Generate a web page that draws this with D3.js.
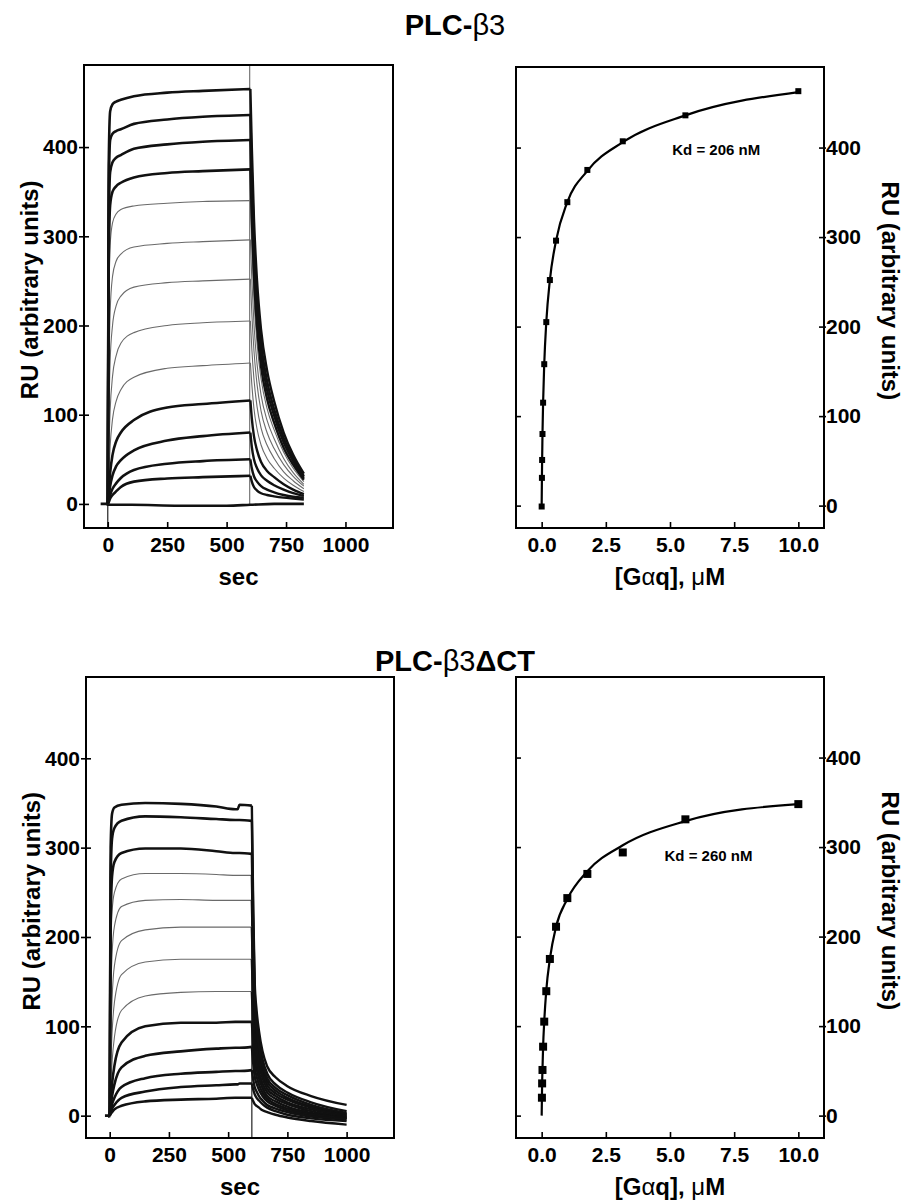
<!DOCTYPE html>
<html><head><meta charset="utf-8">
<script src="https://cdn.jsdelivr.net/npm/d3@7"></script>
<style>
body{margin:0;background:#fff}
svg{display:block}
</style>
</head><body>
<svg id="c" width="911" height="1202"></svg>
<script>
// ---------------- DATA ----------------
// PLC-β3 sensorgrams (sec, RU)
const topAssocTime = [0, 4, 10, 20, 35, 55, 110, 250, 400, 600];
const topAssocRU = [
  [0, 380, 440, 448, 451, 453, 457, 461, 463, 465],
  [0, 350, 408, 415, 418, 420, 426, 431, 434, 436],
  [0, 310, 372, 383, 388, 391, 398, 403, 406, 408],
  [0, 270, 335, 350, 356, 360, 366, 371, 373, 375],
  [0, 200, 290, 315, 325, 330, 334, 337, 339, 340],
  [0, 130, 215, 255, 272, 280, 288, 292, 294, 296],
  [0, 90, 160, 200, 222, 233, 243, 248, 250, 252],
  [0, 55, 105, 143, 166, 180, 192, 200, 203, 205],
  [0, 30, 65, 95, 115, 128, 142, 152, 155, 158],
  [0, 15, 35, 55, 70, 80, 94, 108, 112, 116],
  [0, 8, 20, 32, 42, 49, 60, 71, 76, 80],
  [0, 4, 10, 17, 23, 29, 38, 45, 48, 50],
  [0, 2, 6, 10, 14, 19, 25, 28.5, 30, 31.5]
];
const topDissTime = [600, 606, 615, 628, 645, 670, 700, 740, 780, 825];
const topDissRU = [
  [465, 400, 320, 250, 195, 150, 115, 80, 55, 34],
  [436, 372, 298, 232, 180, 138, 106, 74, 51, 31],
  [408, 348, 278, 216, 168, 128, 99, 69, 48, 29],
  [375, 320, 256, 198, 154, 118, 91, 63, 44, 27],
  [340, 290, 232, 180, 140, 107, 83, 58, 40, 25],
  [296, 252, 202, 157, 122, 94, 73, 51, 35, 22],
  [252, 214, 172, 134, 104, 80, 62, 44, 31, 20],
  [205, 174, 140, 109, 85, 66, 51, 36, 26, 17],
  [158, 134, 107, 84, 66, 51, 40, 29, 21, 14],
  [116, 96, 76, 60, 47, 37, 30, 22, 16, 11],
  [80, 64, 50, 40, 32, 26, 21, 16, 12, 9],
  [50, 40, 31, 25, 20, 16, 13, 10, 8, 7],
  [31.5, 25, 19, 15, 12, 10, 8.5, 7, 6, 5]
];
const topTraceKind = ["data","data","data","data","fit","fit","fit","fit","fit","data","data","data","data"];
const topBaseTime = [-30, -5, 0, 100, 300, 500, 600, 700, 825];
const topBaseRU = [0, 0, -1, -1, -2, -2, -1, 0, 0];

// PLC-β3ΔCT sensorgrams (sec, RU)
const botAssocTime = [0, 4, 10, 20, 50, 150, 300, 450, 530, 540, 548, 600];
const botAssocRU = [
  [0, 300, 338, 345, 348, 350, 349, 346, 343, 343, 348, 347],
  [0, 265, 310, 322, 330, 335, 334, 332, 331, 331, 331, 330],
  [0, 215, 268, 284, 294, 299, 299, 296, 294, 294, 294, 293],
  [0, 170, 228, 250, 265, 271, 271, 270, 269, 269, 269, 269],
  [0, 120, 180, 212, 234, 241, 242, 241, 241, 241, 241, 241],
  [0, 80, 130, 168, 196, 208, 211, 211, 211, 211, 211, 211],
  [0, 52, 92, 127, 158, 172, 175, 175, 175, 175, 175, 175],
  [0, 30, 60, 88, 118, 134, 138, 139, 139, 139, 139, 139],
  [0, 17, 36, 56, 82, 100, 104, 104, 105, 105, 105, 105],
  [0, 10, 22, 35, 54, 67, 72, 75, 76, 76, 76, 77],
  [0, 6, 13, 20, 32, 42, 47, 49, 50, 50, 50, 51],
  [0, 3, 8, 12, 20, 27, 32, 34, 35, 35, 36, 36],
  [0, 2, 4, 7, 11, 16, 18, 19, 20, 20, 20, 20]
];
const botDissTime = [600, 606, 612, 620, 630, 645, 665, 700, 750, 850, 1000];
const botDissRU = [
  [347, 230, 150, 118, 95, 72, 55, 43, 33, 22, 12],
  [330, 215, 140, 108, 85, 63, 47, 35, 26, 15, 5],
  [293, 195, 128, 98, 77, 57, 42, 31, 23, 12, 3],
  [269, 180, 118, 90, 70, 52, 38, 28, 20, 10, 2],
  [241, 162, 107, 82, 64, 47, 34, 25, 18, 9, 1],
  [211, 143, 96, 74, 57, 42, 30, 22, 15, 7, 0],
  [175, 120, 82, 63, 49, 36, 26, 19, 13, 5, -1],
  [139, 97, 68, 53, 42, 31, 22, 16, 10, 3, -2],
  [105, 76, 55, 44, 35, 26, 19, 13, 8, 2, -2],
  [77, 58, 44, 36, 29, 22, 16, 11, 6, 1, -3],
  [51, 40, 32, 27, 22, 17, 12, 8, 4, -1, -4],
  [36, 29, 24, 20, 17, 13, 9, 5, 1, -3, -6],
  [20, 16, 13, 11, 9, 6, 4, 1, -2, -6, -10]
];
const botTraceKind = ["data","data","data","fit","fit","fit","fit","fit","data","data","data","data","data"];
const botBaseTime = [-20, -5, 0];
const botBaseRU = [0, 0, -2];

// injection artefacts (sec, RU from, RU to)
const topSpikes = [[0, -30, 0, "dark"], [597, 0, 500, "grey"]];
const botSpikes = [[600, -30, 347, "dark"]];

// Binding isotherms ([Gαq] µM, RU)
const topConc = [0, 0.01, 0.018, 0.032, 0.056, 0.1, 0.18, 0.32, 0.56, 1.0, 1.78, 3.16, 5.6, 10];
const topRU   = [-1, 31, 51, 80, 115, 158, 205, 252, 296, 339, 375, 407, 436, 463];
const topFitConc = [0, 0.01, 0.018, 0.032, 0.056, 0.1, 0.18, 0.32, 0.56, 1.0, 1.78, 3.16, 5.6, 10];
const topFitRU   = [0, 31, 51, 80, 115, 158, 205, 252, 296, 339, 374, 406, 436, 462];
const botConc = [0.01, 0.018, 0.032, 0.056, 0.1, 0.18, 0.32, 0.56, 1.0, 1.78, 3.16, 5.6, 10];
const botRU   = [20, 36, 51, 77, 105, 139, 175, 211, 243, 270, 294, 331, 348];
const botFitConc = [0, 0.01, 0.018, 0.032, 0.056, 0.1, 0.18, 0.32, 0.56, 1.0, 1.78, 3.16, 5.6, 10];
const botFitRU   = [0, 20, 36, 52, 77, 105, 140, 175, 211, 242, 273, 302, 329, 348];

const secTicks = [0, 250, 500, 750, 1000];
const ruTicks = [0, 100, 200, 300, 400];
const concTicks = [0, 2.5, 5, 7.5, 10];
const titles = ["PLC-", "β3", "ΔCT"];
const kdLabels = ["Kd = 206 nM", "Kd = 260 nM"];

// ---------------- DRAW ----------------
const FONT = '"Liberation Sans", Arial, Helvetica, sans-serif';
const svg = d3.select("#c");
svg.append("rect").attr("width", 911).attr("height", 1202).attr("fill", "#fff");

let clipN = 0;
function makePanel(b, xd, yd) {
  const x = d3.scaleLinear().domain(xd).range([b.l, b.r]);
  const y = d3.scaleLinear().domain(yd).range([b.b, b.t]);
  const id = "clip" + (clipN++);
  svg.append("clipPath").attr("id", id).append("rect")
    .attr("x", b.l).attr("y", b.t).attr("width", b.r - b.l).attr("height", b.b - b.t);
  const g = svg.append("g").attr("clip-path", `url(#${id})`);
  return {x, y, g, b};
}
function styleAxis(sel, size) {
  sel.select(".domain").remove();
  sel.selectAll("text").attr("font-family", FONT).attr("font-size", size)
     .attr("font-weight", "bold").attr("fill", "#000");
  sel.selectAll("line").attr("stroke", "#000").attr("stroke-width", 1.6);
}
function frame(p) {
  svg.append("rect").attr("x", p.b.l).attr("y", p.b.t)
    .attr("width", p.b.r - p.b.l).attr("height", p.b.b - p.b.t)
    .attr("fill", "none").attr("stroke", "#000").attr("stroke-width", 2);
}

function sensorPanel(p, aT, aRU, dT, dRU, kinds, baseT, baseRU, spikes, dissAllThick) {
  const line = d3.line().x(d => p.x(d[0])).y(d => p.y(d[1])).curve(d3.curveMonotoneX);
  spikes.forEach(s => {
    p.g.append("line").attr("x1", p.x(s[0])).attr("x2", p.x(s[0]))
      .attr("y1", p.y(s[1])).attr("y2", p.y(s[2]))
      .attr("stroke", s[3] === "dark" ? "#222" : "#777").attr("stroke-width", 1.2);
  });
  const order = d3.range(aRU.length).sort((a, b) => (kinds[a] === "fit" ? 0 : 1) - (kinds[b] === "fit" ? 0 : 1));
  order.forEach(i => {
    const thick = kinds[i] === "data";
    const assoc = aT.map((t, j) => [t, aRU[i][j]]);
    const diss = dT.map((t, j) => [t, dRU[i][j]]);
    p.g.append("path").attr("d", line(assoc)).attr("fill", "none")
      .attr("stroke", thick ? "#111" : "#6a6a6a").attr("stroke-width", thick ? 2.6 : 1.1);
    const dThick = thick || dissAllThick;
    p.g.append("path").attr("d", line(diss)).attr("fill", "none")
      .attr("stroke", dThick ? "#111" : "#6a6a6a").attr("stroke-width", dThick ? 2.4 : 1.1);
  });
  p.g.append("path").attr("d", line(baseT.map((t, j) => [t, baseRU[j]])))
    .attr("fill", "none").attr("stroke", "#111").attr("stroke-width", 2.6);

  const ax = svg.append("g").attr("transform", `translate(0,${p.b.b})`)
    .call(d3.axisBottom(p.x).tickValues(secTicks).tickSize(-6).tickPadding(9).tickFormat(d3.format("d")));
  styleAxis(ax, 21);
  const ay = svg.append("g").attr("transform", `translate(${p.b.l},0)`)
    .call(d3.axisLeft(p.y).tickValues(ruTicks).tickSize(5).tickPadding(1));
  styleAxis(ay, 21);
  ay.selectAll("line").attr("x1", 5);
  frame(p);
  svg.append("text").attr("x", (p.b.l + p.b.r) / 2).attr("y", p.b.b + 57)
    .attr("text-anchor", "middle").attr("font-family", FONT).attr("font-weight", "bold")
    .attr("font-size", 24).text("sec");
  svg.append("text").attr("transform", `translate(${p.b.l - 46},${p.y(240)}) rotate(-90)`)
    .attr("text-anchor", "middle").attr("font-family", FONT).attr("font-weight", "bold")
    .attr("font-size", 24).text("RU (arbitrary units)");
}

function bindingPanel(p, cx, cy, fx, fy, sq, kd, kdPos) {
  const line = d3.line().x(d => p.x(d[0])).y(d => p.y(d[1])).curve(d3.curveMonotoneX);
  p.g.append("path").attr("d", line(fx.map((c, i) => [c, fy[i]])))
    .attr("fill", "none").attr("stroke", "#000").attr("stroke-width", 2.2);
  p.g.selectAll("rect.pt").data(cx.map((c, i) => [c, cy[i]])).enter().append("rect")
    .attr("x", d => p.x(d[0]) - sq / 2).attr("y", d => p.y(d[1]) - sq / 2)
    .attr("width", sq).attr("height", sq).attr("fill", "#000");
  const ax = svg.append("g").attr("transform", `translate(0,${p.b.b})`)
    .call(d3.axisBottom(p.x).tickValues(concTicks).tickSize(-6).tickPadding(9).tickFormat(d3.format(".1f")));
  styleAxis(ax, 21);
  const al = svg.append("g").attr("transform", `translate(${p.b.l},0)`)
    .call(d3.axisLeft(p.y).tickValues(ruTicks).tickSize(-5).tickFormat(""));
  styleAxis(al, 21);
  const ar = svg.append("g").attr("transform", `translate(${p.b.r},0)`)
    .call(d3.axisRight(p.y).tickValues(ruTicks).tickSize(-5).tickPadding(2));
  styleAxis(ar, 21);
  ar.selectAll("line").attr("x1", 2);
  frame(p);
  svg.append("text").attr("x", p.x(kdPos[0])).attr("y", p.y(kdPos[1]))
    .attr("text-anchor", "middle").attr("font-family", FONT).attr("font-weight", "bold")
    .attr("font-size", 15).text(kd);
  const xl = svg.append("text").attr("x", (p.b.l + p.b.r) / 2).attr("y", p.b.b + 57)
    .attr("text-anchor", "middle").attr("font-family", FONT).attr("font-weight", "bold")
    .attr("font-size", 24);
  xl.append("tspan").text("[G");
  xl.append("tspan").attr("font-weight", "normal").text("α");
  xl.append("tspan").text("q], ");
  xl.append("tspan").attr("font-weight", "normal").text("μ");
  xl.append("tspan").text("M");
  svg.append("text").attr("transform", `translate(${p.b.r + 58},${p.y(240)}) rotate(90)`)
    .attr("text-anchor", "middle").attr("font-family", FONT).attr("font-weight", "bold")
    .attr("font-size", 24).text("RU (arbitrary units)");
}

// Panels
const pTL = makePanel({l: 84, r: 393, t: 65, b: 528}, [-100, 1200], [-27, 492]);
const pTR = makePanel({l: 516, r: 824, t: 67, b: 528}, [-1, 11], [-25, 490]);
const pBL = makePanel({l: 86, r: 394, t: 677, b: 1138}, [-100, 1200], [-25, 491]);
const pBR = makePanel({l: 516, r: 824, t: 677, b: 1138}, [-1, 11], [-25, 490]);

sensorPanel(pTL, topAssocTime, topAssocRU, topDissTime, topDissRU, topTraceKind, topBaseTime, topBaseRU, topSpikes, false);
sensorPanel(pBL, botAssocTime, botAssocRU, botDissTime, botDissRU, botTraceKind, botBaseTime, botBaseRU, botSpikes, true);
bindingPanel(pTR, topConc, topRU, topFitConc, topFitRU, 6, kdLabels[0], [6.8, 392]);
bindingPanel(pBR, botConc, botRU, botFitConc, botFitRU, 8, kdLabels[1], [6.5, 284]);

// Titles
function title(y, parts) {
  const t = svg.append("text").attr("x", 455).attr("y", y).attr("text-anchor", "middle")
    .attr("font-family", FONT).attr("font-weight", "bold").attr("font-size", 29);
  parts.forEach(p => t.append("tspan").attr("font-weight", p[1] ? "bold" : "normal").text(p[0]));
}
title(35, [[titles[0], true], [titles[1], false]]);
title(671, [[titles[0], true], [titles[1], false], [titles[2], true]]);
</script>
</body></html>
